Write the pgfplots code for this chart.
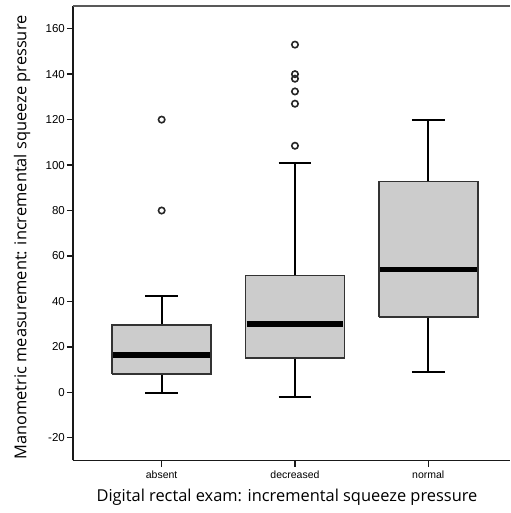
\documentclass[border=0pt]{standalone}
\usepackage{fontspec}
\setmainfont{Liberation Sans}
\newfontfamily\labelfont{Open Sans}
\usepackage{pgfplots}
\pgfplotsset{compat=1.18}
\definecolor{boxgray}{HTML}{CCCCCC}
\begin{document}
\begin{tikzpicture}
\begin{axis}[
  scale only axis,
  width=437pt, height=454.5pt,
  xmin=-0.665, xmax=2.613,
  ymin=-30, ymax=170,
  axis lines=left,
  axis line style={-, black!90, line width=1.7pt},
  ytick={-20,0,20,40,60,80,100,120,140,160},
  xtick={0,1,2},
  xticklabels={absent,decreased,normal},
  tick align=outside,
  major tick length=6pt,
  tick style={black!90, line width=1.4pt},
  yticklabel style={font=\fontsize{11.5}{13}\selectfont, inner sep=2pt},
  xticklabel style={font=\fontsize{10.5}{12}\selectfont, inner sep=4pt},
  /pgf/number format/assume math mode=true,
  xlabel={Digital rectal exam: incremental squeeze pressure},
  ylabel={Manometric measurement: incremental squeeze pressure},
  xlabel style={font=\labelfont\fontsize{16.4}{19}\selectfont, at={(axis description cs:0.4897,-0.0815)}, anchor=center},
  ylabel style={font=\labelfont\fontsize{16.4}{19}\selectfont, at={(axis description cs:-0.1167,0.4908)}, anchor=center},
  every axis plot/.append style={line join=miter},
]
% whiskers (vertical)
\addplot[black, line width=2pt] coordinates {(0,-0.5) (0,42.6)};
\addplot[black, line width=2pt] coordinates {(1,-2.2) (1,100.8)};
\addplot[black, line width=2pt] coordinates {(2,8.8) (2,120)};
% whisker caps
\addplot[black, line width=2pt] coordinates {(-0.1225,-0.5) (0.1225,-0.5)};
\addplot[black, line width=2pt] coordinates {(-0.1225,42.6) (0.1225,42.6)};
\addplot[black, line width=2pt] coordinates {(0.8775,-2.2) (1.1225,-2.2)};
\addplot[black, line width=2pt] coordinates {(0.8775,100.8) (1.1225,100.8)};
\addplot[black, line width=2pt] coordinates {(1.8775,8.8) (2.1225,8.8)};
\addplot[black, line width=2pt] coordinates {(1.8775,120) (2.1225,120)};
% boxes (Q1 to Q3)
\addplot[fill=boxgray, draw=black!80, line width=1.8pt] coordinates {(-0.3715,8.2) (0.3715,8.2) (0.3715,29.5) (-0.3715,29.5) (-0.3715,8.2)};
\addplot[fill=boxgray, draw=black!80, line width=1.8pt] coordinates {(0.6285,15.1) (1.3715,15.1) (1.3715,51.4) (0.6285,51.4) (0.6285,15.1)};
\addplot[fill=boxgray, draw=black!80, line width=1.8pt] coordinates {(1.6285,33.2) (2.3715,33.2) (2.3715,92.8) (1.6285,92.8) (1.6285,33.2)};
% medians
\addplot[black, line width=5.7pt] coordinates {(-0.362,16.5) (0.362,16.5)};
\addplot[black, line width=5.7pt] coordinates {(0.638,30) (1.362,30)};
\addplot[black, line width=5.7pt] coordinates {(1.638,54) (2.362,54)};
% outliers
\addplot[only marks, mark=o, mark size=3.2pt, mark options={black!85, line width=1.6pt}] coordinates {(0,120) (0,80)};
\addplot[only marks, mark=o, mark size=3.2pt, mark options={black!85, line width=1.6pt}] coordinates {(1,153) (1,140) (1,138) (1,132.4) (1,127) (1,108.5)};
\draw[black!65, line width=2pt] (rel axis cs:0,1) -- (rel axis cs:1,1);
\coordinate (bl) at (rel axis cs:0,0);
\coordinate (tr) at (rel axis cs:1,1);
\end{axis}
\path ([xshift=-73pt,yshift=-52.5pt]bl) rectangle ([yshift=6pt]tr);
\end{tikzpicture}
\end{document}
